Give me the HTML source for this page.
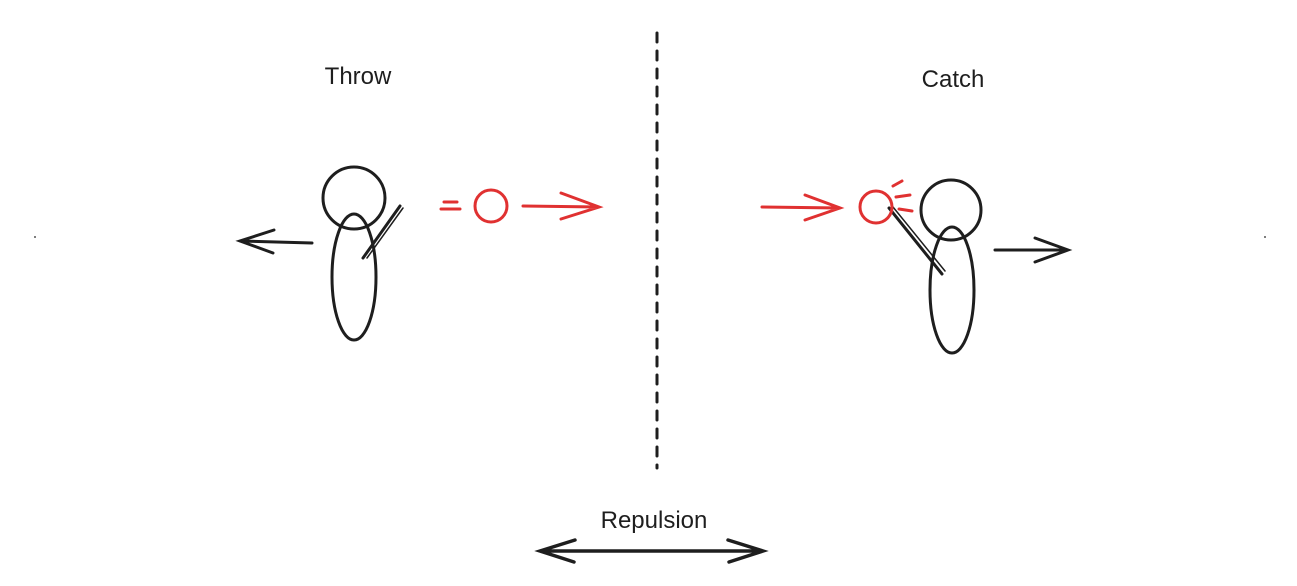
<!DOCTYPE html>
<html><head><style>body{margin:0;background:#fff}svg{display:block}text{font-family:"Liberation Sans",sans-serif;font-size:24px;fill:#1e1e1e}</style></head>
<body>
<svg width="1297" height="586" viewBox="0 0 1297 586" xmlns="http://www.w3.org/2000/svg">
<g fill="none" stroke="#1e1e1e" stroke-width="3" stroke-linecap="round">
<circle cx="354" cy="198" r="31"/>
<ellipse cx="354" cy="277" rx="22" ry="63"/>
<line x1="363" y1="258" x2="400" y2="206"/>
<line x1="367" y1="258" x2="403" y2="208" stroke-width="1.5"/>
<path d="M312 243 L240 241 M274 230 L240 241 L273 253"/>
<line x1="657" y1="33" x2="657" y2="468" stroke-dasharray="9 9"/>
<circle cx="951" cy="210" r="30"/>
<ellipse cx="952" cy="290" rx="22" ry="63"/>
<line x1="889" y1="208" x2="942" y2="274"/>
<line x1="893" y1="207" x2="945" y2="271" stroke-width="1.5"/>
<path d="M995 250 L1068 250 M1035 238 L1068 250 L1035 262"/>
<path d="M540 551 L763 551 M575 540 L540 551 L574 562 M728 540 L763 551 L729 562" stroke-width="3.5"/>
</g>
<circle cx="35" cy="237" r="1" fill="#555"/><circle cx="1265" cy="237" r="1" fill="#555"/>
<g fill="none" stroke="#e03131" stroke-width="3" stroke-linecap="round">
<line x1="444" y1="202" x2="457" y2="202"/>
<line x1="441" y1="209" x2="460" y2="209"/>
<circle cx="491" cy="206" r="16"/>
<path d="M523 206 L599 207 M561 193 L599 207 L561 219"/>
<path d="M762 207 L840 208 M805 195 L840 208 L805 220"/>
<circle cx="876" cy="207" r="16"/>
<line x1="893" y1="186" x2="902" y2="181"/>
<line x1="896" y1="197" x2="910" y2="195"/>
<line x1="899" y1="209" x2="912" y2="211"/>
</g>
<text x="358" y="84" text-anchor="middle">Throw</text>
<text x="953" y="87" text-anchor="middle">Catch</text>
<text x="654" y="528" text-anchor="middle">Repulsion</text>
</svg>
</body></html>
